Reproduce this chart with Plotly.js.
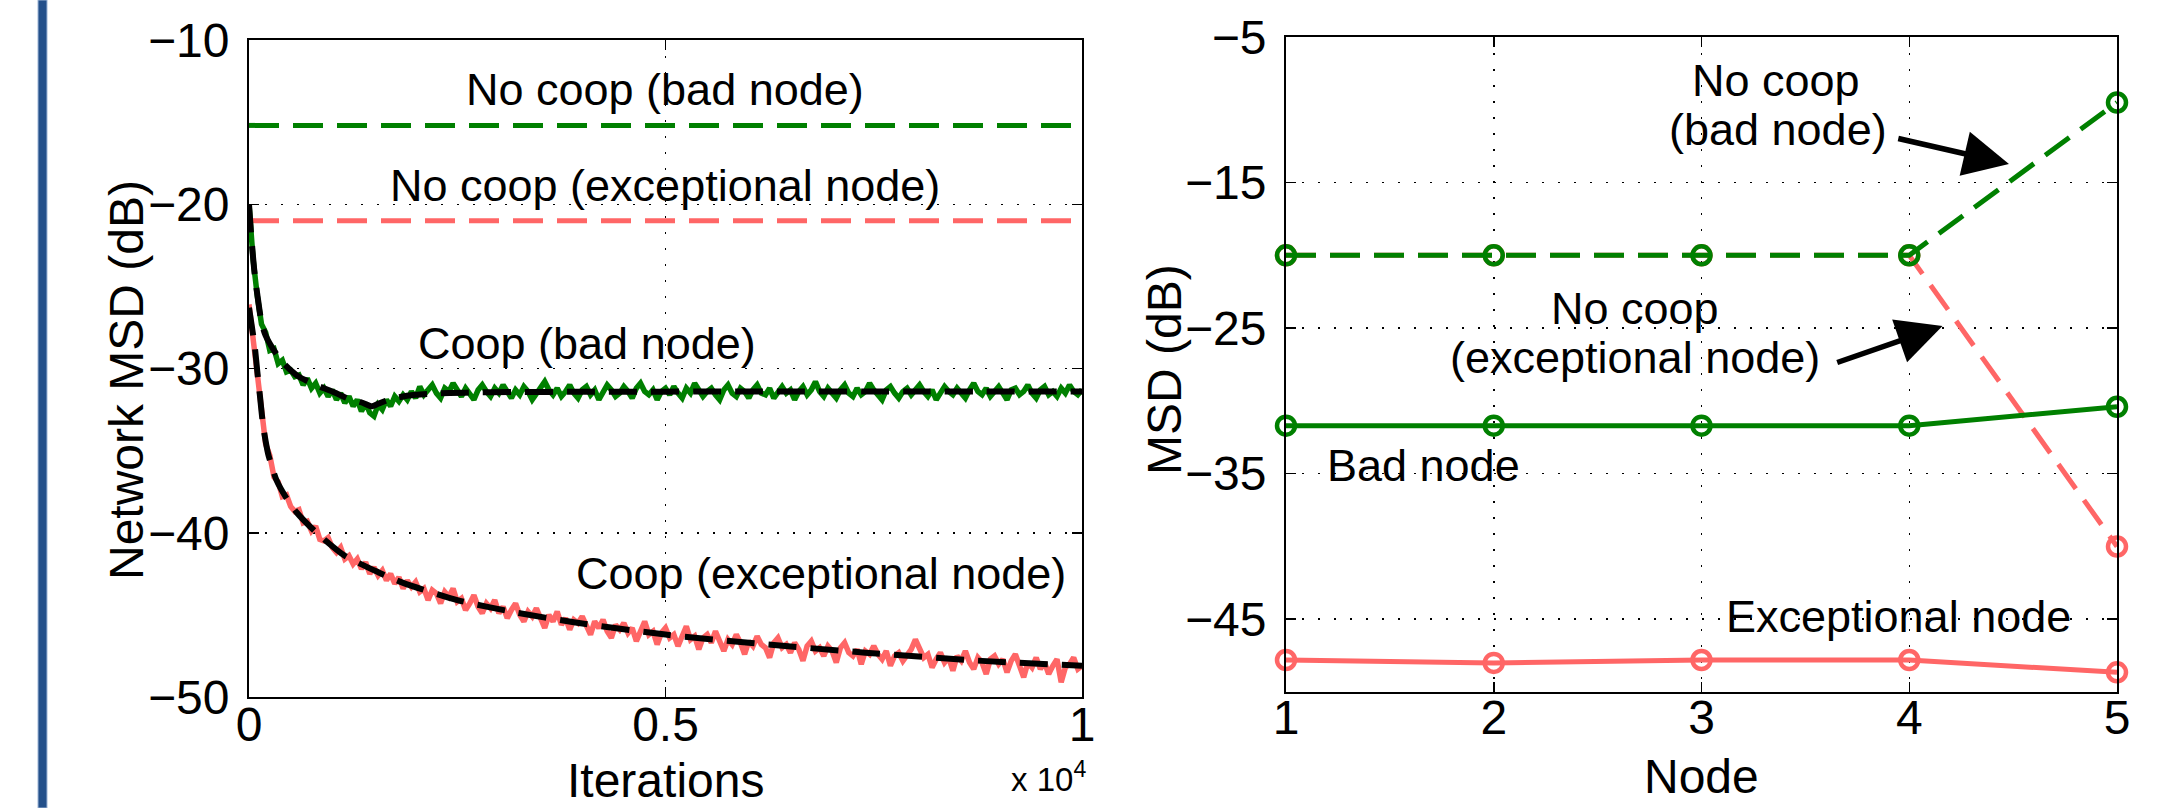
<!DOCTYPE html>
<html>
<head>
<meta charset="utf-8">
<script src="https://cdn.plot.ly/plotly-3.0.1.min.js"></script>
<style>
  html, body { margin: 0; padding: 0; background: #ffffff; }
  #chart { width: 2167px; height: 808px; }
</style>
</head>
<body>
<div id="chart"></div>
<script>
// ---------------- Left panel: network MSD learning curves ----------------
const iterStep = 50;  // simulated curves are sampled every 50 iterations

const coopBadSim = [
  -20.0, -23.4, -25.6, -27.3, -27.8, -28.9, -28.8, -29.7, -29.5, -30.2,
  -30.1, -30.5, -30.4, -31.0, -30.6, -31.2, -30.9, -31.5, -31.2, -31.7,
  -31.3, -31.9, -31.5, -32.1, -31.7, -32.3, -31.9, -32.6, -32.1, -32.7,
  -32.9, -32.2, -32.5, -31.9, -32.3, -31.7, -32.0, -31.6, -31.9, -31.4,
  -31.8,
  -31.1, -31.6, -31.3, -31.0, -31.5, -31.8, -31.2, -31.4, -30.9, -31.3,
  -31.7, -31.2, -31.5, -31.9, -31.3, -31.0, -31.4, -31.7, -31.2, -31.5,
  -31.0, -31.4, -31.8, -31.3, -31.6, -31.1, -31.4, -31.9, -31.5, -31.2,
  -30.8, -31.3, -31.6, -31.2, -31.7, -31.4, -31.0, -31.5, -31.8, -31.3,
  -31.1, -31.6, -31.3, -31.9, -31.4, -31.0, -31.3, -31.7, -31.5, -31.1,
  -31.4, -31.8, -31.2, -30.9, -31.4, -31.6, -31.3, -31.9, -31.4, -31.2,
  -31.6, -31.1, -31.5, -31.8, -31.2, -31.5, -30.9, -31.3, -31.7, -31.4,
  -31.2, -31.6, -31.9, -31.3, -31.0, -31.5, -31.7, -31.2, -31.4, -31.8,
  -31.3, -31.0, -31.5, -31.6, -31.2, -31.8, -31.4, -31.1, -31.5, -31.3,
  -31.9, -31.4, -31.1, -31.6, -31.3, -30.8, -31.4, -31.7, -31.2, -31.5,
  -31.8, -31.3, -31.0, -31.5, -31.7, -31.2, -31.6, -31.4, -30.9, -31.3,
  -31.6, -31.9, -31.3, -31.1, -31.5, -31.8, -31.4, -31.2, -31.6, -31.3,
  -31.0, -31.4, -31.7, -31.3, -31.9, -31.5, -31.1, -31.4, -31.6, -31.2,
  -31.5, -31.8, -31.3, -30.9, -31.4, -31.6, -31.2, -31.7, -31.4, -31.1,
  -31.5, -31.9, -31.3, -31.2, -31.6, -31.4, -31.0, -31.5, -31.8, -31.3,
  -31.1, -31.6, -31.4, -31.7, -31.2, -31.5, -31.0, -31.4, -31.6, -31.3
];

const coopExcSim = [
  -26.1, -28.1, -30.4, -32.5, -34.6, -35.3, -36.6, -36.9, -37.8, -37.7,
  -38.4, -38.7, -38.6, -39.4, -39.3, -39.9, -39.6, -40.4, -40.5, -40.3,
  -40.9, -41.2, -40.9, -41.6, -41.4, -41.9, -41.6, -42.2, -41.8, -42.5,
  -42.1, -42.6, -42.3, -42.9, -42.5, -43.1, -42.7, -43.4, -42.9, -43.3,
  -43.0, -43.6, -43.4, -44.1, -43.5, -43.7, -44.3, -43.6, -43.9, -43.4,
  -44.2, -44.0, -44.7, -44.3, -43.8, -44.5, -44.9, -44.3, -44.6, -44.1,
  -44.9, -44.5, -45.2, -44.7, -44.3, -45.0, -45.4, -44.8, -45.1, -44.6,
  -45.3, -45.8, -45.0, -45.4, -44.8, -45.6, -45.2, -45.9, -45.3, -45.5,
  -45.1, -45.7, -46.2, -45.4, -45.8, -45.3, -46.0, -46.4, -45.6, -45.9,
  -45.5, -46.1, -45.8, -46.6, -45.9, -45.4, -46.2, -46.0, -46.8, -46.1,
  -45.8, -46.4, -46.2, -46.9, -46.3, -45.7, -46.5, -46.3, -47.1, -46.4,
  -46.2, -46.7, -46.0, -46.6, -47.2, -46.5, -46.8, -46.2, -46.7, -47.4,
  -46.6, -46.9, -46.3, -46.8, -47.0, -47.6, -46.7, -46.4, -47.0, -46.8,
  -47.3, -46.7, -47.1, -47.8, -46.9, -46.6, -47.2, -47.0, -47.5, -46.9,
  -47.2, -47.9, -47.0, -46.7, -47.3, -47.5, -47.1, -48.0, -47.2, -47.4,
  -46.9, -47.4, -47.7, -47.2, -48.1, -47.5, -47.3, -47.8, -47.4, -47.1,
  -46.5, -47.0, -47.6, -47.4, -48.2, -47.7, -47.3, -47.9, -47.6, -48.4,
  -47.5, -47.8, -47.2, -47.9, -48.3, -47.6, -47.9, -48.6, -47.7, -47.5,
  -48.0, -47.7, -48.5, -47.8, -47.4, -48.1, -48.8, -47.9, -48.2, -47.6,
  -48.3, -47.9, -48.6, -48.1, -47.7, -49.1, -48.2, -48.0, -47.6, -48.3,
  -48.1
];

// Analytical (theory) curves
const coopBadTheoryIter = [0, 25, 50, 75, 100, 150, 200, 300, 400, 500, 600, 800, 1000,
  1200, 1370, 1470, 1550, 1650, 1800, 2000, 2200, 2600, 3200, 4000, 6000, 8000, 10000];
const coopBadTheory = [-20.0, -21.8, -23.3, -24.6, -25.5, -27.2, -28.0, -28.9, -29.6, -30.1,
  -30.5, -31.0, -31.4, -31.85, -32.1, -32.3, -32.15, -31.95, -31.75, -31.6, -31.53, -31.47,
  -31.43, -31.42, -31.4, -31.4, -31.4];

const coopExcTheoryIter = [0, 30, 70, 100, 130, 170, 230, 330, 450, 570, 800, 1150, 1550,
  1850, 2500, 3200, 3900, 5000, 6000, 7400, 8800, 10000];
const coopExcTheory = [-26.3, -27.3, -28.7, -30.2, -31.6, -33.5, -35.2, -36.8, -37.9, -38.75,
  -39.95, -41.4, -42.4, -43.05, -44.1, -44.85, -45.45, -46.2, -46.7, -47.3, -47.8, -48.1];

// Non-cooperative steady-state levels
const noCoopIterSpan = [0, 10000];
const noCoopBadLevel = [-15.2, -15.2];
const noCoopExcLevel = [-21.0, -21.0];

const iterTickVals = [0, 5000, 10000];
const iterTickText = ['0', '0.5', '1'];
const leftMsdTicks = [-50, -40, -30, -20, -10];

// ---------------- Right panel: steady-state MSD per node ----------------
const nodes = [1, 2, 3, 4, 5];
const nodeNoCoopBad = [-20, -20, -20, -20, -9.5];
const nodeNoCoopExc = [-20, -20, -20, -20, -40];
const nodeCoopBad = [-31.7, -31.7, -31.7, -31.7, -30.4];
const nodeCoopExc = [-47.8, -48.0, -47.8, -47.8, -48.65];
const rightMsdTicks = [-45, -35, -25, -15, -5];

// ---------------- Styling ----------------
const W = 2167, H = 808;
const GREEN = '#008000';
const PINK = '#ff6666';
const FONT = 'Liberation Sans, Arial, Helvetica, sans-serif';
const px = v => v / W;
const py = v => 1 - v / H;

const iterations = coopBadSim.map((_, i) => i * iterStep);

const nodeMarker = color => ({ symbol: 'circle-open', size: 18, color, line: { width: 4.5 } });

const traces = [
  { x: noCoopIterSpan, y: noCoopBadLevel, xaxis: 'x', yaxis: 'y', mode: 'lines',
    line: { color: GREEN, width: 5, dash: '30px,14px' } },
  { x: noCoopIterSpan, y: noCoopExcLevel, xaxis: 'x', yaxis: 'y', mode: 'lines',
    line: { color: PINK, width: 5, dash: '30px,14px' } },
  { x: iterations, y: coopBadSim, xaxis: 'x', yaxis: 'y', mode: 'lines',
    line: { color: GREEN, width: 5.5 } },
  { x: iterations, y: coopExcSim, xaxis: 'x', yaxis: 'y', mode: 'lines',
    line: { color: PINK, width: 5.5 } },
  { x: coopBadTheoryIter, y: coopBadTheory, xaxis: 'x', yaxis: 'y', mode: 'lines',
    line: { color: '#000', width: 6, dash: '28px,14px', shape: 'spline', smoothing: 0.6 } },
  { x: coopExcTheoryIter, y: coopExcTheory, xaxis: 'x', yaxis: 'y', mode: 'lines',
    line: { color: '#000', width: 6, dash: '28px,14px', shape: 'spline', smoothing: 0.6 } },

  { x: nodes, y: nodeNoCoopExc, xaxis: 'x2', yaxis: 'y2', mode: 'lines+markers', cliponaxis: false,
    line: { color: PINK, width: 5, dash: '30px,14px' }, marker: nodeMarker(PINK) },
  { x: nodes, y: nodeNoCoopBad, xaxis: 'x2', yaxis: 'y2', mode: 'lines+markers', cliponaxis: false,
    line: { color: GREEN, width: 5, dash: '30px,14px' }, marker: nodeMarker(GREEN) },
  { x: nodes, y: nodeCoopBad, xaxis: 'x2', yaxis: 'y2', mode: 'lines+markers', cliponaxis: false,
    line: { color: GREEN, width: 5 }, marker: nodeMarker(GREEN) },
  { x: nodes, y: nodeCoopExc, xaxis: 'x2', yaxis: 'y2', mode: 'lines+markers', cliponaxis: false,
    line: { color: PINK, width: 5 }, marker: nodeMarker(PINK) }
];

const axisCommon = {
  showline: true, linecolor: '#000', linewidth: 2, mirror: 'ticks',
  ticks: 'inside', ticklen: 10, tickwidth: 1.5, tickcolor: '#000',
  showgrid: true, gridcolor: '#000', gridwidth: 1.5, griddash: '2px,14px',
  zeroline: false, fixedrange: true,
  tickfont: { family: FONT, size: 48, color: '#000' }
};

const txt = (text, x, y, xref, yref, size, extra) => Object.assign({
  text, x, y, xref, yref, showarrow: false,
  font: { family: FONT, size, color: '#000' },
  xanchor: 'center', yanchor: 'middle'
}, extra || {});

const arrow = (xHead, yHead, xTail, yTail) => ({
  text: '', x: xHead, y: yHead, ax: xTail, ay: yTail,
  xref: 'x2', yref: 'y2', axref: 'x2', ayref: 'y2',
  showarrow: true, arrowhead: 2, arrowsize: 1.65, arrowwidth: 5.5, arrowcolor: '#000',
  standoff: 0, startstandoff: 0
});

const layout = {
  width: W, height: H, autosize: false,
  margin: { l: 0, r: 0, t: 0, b: 0 },
  paper_bgcolor: '#fff', plot_bgcolor: '#fff',
  showlegend: false,
  font: { family: FONT, color: '#000' },
  xaxis: Object.assign({}, axisCommon, {
    domain: [px(249), px(1082)], anchor: 'y', range: [0, 10000],
    tickvals: iterTickVals, ticktext: iterTickText, ticklabelstandoff: -16
  }),
  yaxis: Object.assign({}, axisCommon, {
    domain: [py(697), py(40)], anchor: 'x', range: [-50, -10],
    tickvals: leftMsdTicks, ticklabelstandoff: 8
  }),
  xaxis2: Object.assign({}, axisCommon, {
    domain: [px(1286), px(2117)], anchor: 'y2', range: [1, 5],
    tickvals: nodes, ticklabelstandoff: -18
  }),
  yaxis2: Object.assign({}, axisCommon, {
    domain: [py(692), py(37)], anchor: 'x2', range: [-50, -5],
    tickvals: rightMsdTicks, ticklabelstandoff: 8
  }),
  shapes: [
    { type: 'rect', xref: 'paper', yref: 'paper', x0: px(38), x1: px(47), y0: 0, y1: 1,
      fillcolor: '#24508a', line: { color: '#9db5d6', width: 1 }, layer: 'above' }
  ],
  annotations: [
    // axis titles
    txt('Network MSD (dB)', px(126), py(380), 'paper', 'paper', 48, { textangle: -90 }),
    txt('Iterations', px(665), py(780), 'paper', 'paper', 48),
    txt('x 10<sup>4</sup>', px(1088), py(800), 'paper', 'paper', 33, { xanchor: 'right', yanchor: 'bottom' }),
    txt('MSD (dB)', px(1165), py(370), 'paper', 'paper', 48, { textangle: -90 }),
    txt('Node', px(1701), py(776), 'paper', 'paper', 48),

    // left panel labels
    txt('No coop (bad node)', 4990, -13.0, 'x', 'y', 45),
    txt('No coop (exceptional node)', 4990, -18.85, 'x', 'y', 45),
    txt('Coop (bad node)', 4057, -28.5, 'x', 'y', 45),
    txt('Coop (exceptional node)', 6870, -42.5, 'x', 'y', 45),

    // right panel labels
    txt('No coop', 3.36, -7.97, 'x2', 'y2', 45),
    txt('(bad node)', 3.37, -11.37, 'x2', 'y2', 45),
    txt('No coop', 2.68, -23.67, 'x2', 'y2', 45),
    txt('(exceptional node)', 2.68, -27.03, 'x2', 'y2', 45),
    txt('Bad node', 1.66, -34.46, 'x2', 'y2', 45),
    txt('Exceptional node', 3.95, -44.82, 'x2', 'y2', 45),

    arrow(4.48, -13.72, 3.94, -11.95),
    arrow(4.16, -24.85, 3.646, -27.4)
  ]
};

Plotly.newPlot('chart', traces, layout, { staticPlot: true, displayModeBar: false });
</script>
</body>
</html>
